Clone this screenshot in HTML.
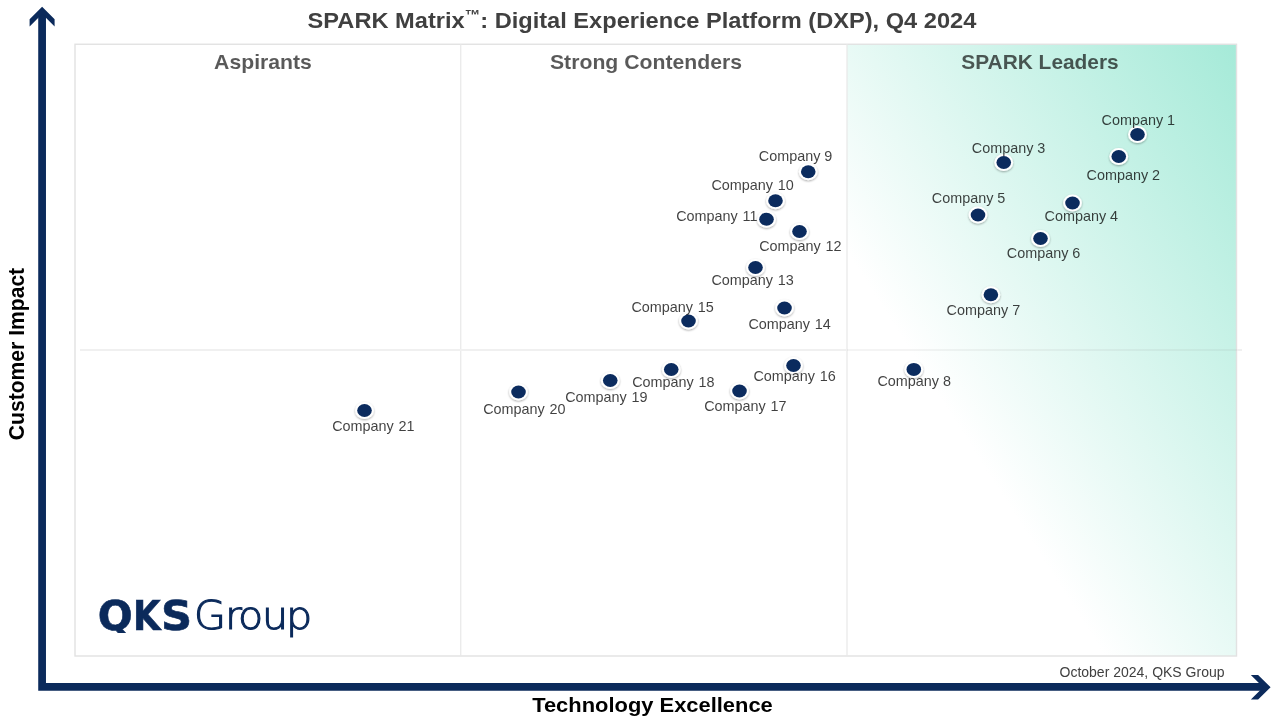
<!DOCTYPE html>
<html lang="en">
<head>
<meta charset="utf-8">
<title>SPARK Matrix: Digital Experience Platform (DXP), Q4 2024</title>
<style>
html,body{margin:0;padding:0;background:#fff;}
body{width:1280px;height:720px;position:relative;overflow:hidden;font-family:"Liberation Sans",sans-serif;}
.abs{position:absolute;}
#gfx{position:absolute;left:0;top:0;width:1280px;height:720px;}
#leaders{position:absolute;left:847px;top:44px;width:390px;height:612px;background:linear-gradient(to bottom left,#a5ead8 0%,#ffffff 67%);}
.title{position:absolute;left:0;top:6px;width:1284px;text-align:center;font-weight:bold;font-size:22.8px;line-height:28px;color:#404040;white-space:nowrap;transform:scaleX(1.036);transform-origin:642.3px 50%;}
.title sup{font-size:15px;line-height:0;vertical-align:8px;}
.q{position:absolute;top:48.8px;font-weight:bold;font-size:20.4px;line-height:26px;color:rgba(0,0,0,0.65);white-space:nowrap;transform:translateX(-50%) scaleX(1.04);}
.l{position:absolute;font-size:14.4px;line-height:16px;color:rgba(0,0,0,0.75);white-space:nowrap;}
.xl{position:absolute;left:0;top:692px;width:1305px;text-align:center;font-weight:bold;font-size:21px;line-height:26px;color:#000;transform:scaleX(1.043);transform-origin:652.5px 50%;}
.yl{position:absolute;left:16.9px;top:354.4px;font-weight:bold;font-size:21.1px;line-height:26px;color:#000;white-space:nowrap;transform:translate(-50%,-50%) rotate(-90deg) scaleY(1.035);}
.foot{position:absolute;right:55.5px;top:664px;font-size:14px;line-height:16px;color:#404040;white-space:nowrap;}
.logo{position:absolute;left:0;top:590.6px;width:330px;height:50px;white-space:nowrap;color:#0b2a5b;line-height:50px;}
.logo b{font-family:"DejaVu Sans","Liberation Sans",sans-serif;font-weight:bold;font-size:41.2px;-webkit-text-stroke:0.6px #0b2a5b;}
.logo b span,.logo i span{position:absolute;top:0;display:block;transform-origin:0 50%;}
.logo .lq{height:42.2px;overflow:hidden;}
.logo .lk{font-family:"DejaVu Sans Condensed","DejaVu Sans",sans-serif;}
.logo i{font-style:normal;font-family:"DejaVu Sans","Liberation Sans",sans-serif;font-weight:200;font-size:38.2px;-webkit-text-stroke:1.05px #0b2a5b;}
.logo i span{transform:scaleX(1.08);}
</style>
</head>
<body>
<div id="leaders"></div>
<svg id="gfx" width="1280" height="720" viewBox="0 0 1280 720">
  <defs>
    <filter id="sh" x="-50%" y="-50%" width="200%" height="200%">
      <feGaussianBlur in="SourceAlpha" stdDeviation="1.2"/>
      <feOffset dx="0" dy="1.2" result="b"/>
      <feComponentTransfer><feFuncA type="linear" slope="0.35"/></feComponentTransfer>
      <feMerge><feMergeNode/><feMergeNode in="SourceGraphic"/></feMerge>
    </filter>
  </defs>
  <!-- grid -->
  <rect x="75" y="44.25" width="1161.5" height="611.75" fill="none" stroke="#e2e2e2" stroke-width="1.4"/>
  <line x1="460.75" y1="44" x2="460.75" y2="656" stroke="#e8e8e8" stroke-width="1.2"/>
  <line x1="847" y1="44" x2="847" y2="656" stroke="#e8e8e8" stroke-width="1.2"/>
  <line x1="80" y1="350" x2="847" y2="350" stroke="#f0f0f0" stroke-width="2"/>
  <line x1="847" y1="350" x2="1237" y2="350" stroke="#808080" stroke-opacity="0.09" stroke-width="2"/>
  <line x1="1237" y1="350" x2="1242" y2="350" stroke="#f0f0f0" stroke-width="2"/>
  <!-- axes -->
  <g fill="none" stroke="#0b2a5b" stroke-width="7.75" stroke-linejoin="miter" stroke-linecap="butt">
    <polyline points="42.1,12 42.1,686.9 1265,686.9"/>
  </g>
  <polygon fill="#0b2a5b" points="42.1,6.75 54.6,19.25 54.6,26.5 42.1,14 29.6,26.5 29.6,19.25"/>
  <polygon fill="#0b2a5b" points="1270.6,687.3 1258.1,675 1250.85,675 1263.2,687.3 1250.85,699.6 1258.1,699.6"/>

  <g id="pts">
    <ellipse cx="1137.5" cy="134.5" rx="9.4" ry="8.5" fill="#fff" filter="url(#sh)"/><ellipse cx="1137.5" cy="134.5" rx="7.3" ry="6.5" fill="#0b2b5e"/>
    <ellipse cx="1118.75" cy="156.5" rx="9.4" ry="8.5" fill="#fff" filter="url(#sh)"/><ellipse cx="1118.75" cy="156.5" rx="7.3" ry="6.5" fill="#0b2b5e"/>
    <ellipse cx="1003.75" cy="162.5" rx="9.4" ry="8.5" fill="#fff" filter="url(#sh)"/><ellipse cx="1003.75" cy="162.5" rx="7.3" ry="6.5" fill="#0b2b5e"/>
    <ellipse cx="1072.5" cy="203" rx="9.4" ry="8.5" fill="#fff" filter="url(#sh)"/><ellipse cx="1072.5" cy="203" rx="7.3" ry="6.5" fill="#0b2b5e"/>
    <ellipse cx="978" cy="215" rx="9.4" ry="8.5" fill="#fff" filter="url(#sh)"/><ellipse cx="978" cy="215" rx="7.3" ry="6.5" fill="#0b2b5e"/>
    <ellipse cx="1040.5" cy="238.5" rx="9.4" ry="8.5" fill="#fff" filter="url(#sh)"/><ellipse cx="1040.5" cy="238.5" rx="7.3" ry="6.5" fill="#0b2b5e"/>
    <ellipse cx="990.9" cy="294.75" rx="9.4" ry="8.5" fill="#fff" filter="url(#sh)"/><ellipse cx="990.9" cy="294.75" rx="7.3" ry="6.5" fill="#0b2b5e"/>
    <ellipse cx="913.8" cy="369.4" rx="9.4" ry="8.5" fill="#fff" filter="url(#sh)"/><ellipse cx="913.8" cy="369.4" rx="7.3" ry="6.5" fill="#0b2b5e"/>
    <ellipse cx="808.25" cy="171.75" rx="9.4" ry="8.5" fill="#fff" filter="url(#sh)"/><ellipse cx="808.25" cy="171.75" rx="7.3" ry="6.5" fill="#0b2b5e"/>
    <ellipse cx="775.5" cy="200.75" rx="9.4" ry="8.5" fill="#fff" filter="url(#sh)"/><ellipse cx="775.5" cy="200.75" rx="7.3" ry="6.5" fill="#0b2b5e"/>
    <ellipse cx="766.5" cy="219.25" rx="9.4" ry="8.5" fill="#fff" filter="url(#sh)"/><ellipse cx="766.5" cy="219.25" rx="7.3" ry="6.5" fill="#0b2b5e"/>
    <ellipse cx="799.5" cy="231.5" rx="9.4" ry="8.5" fill="#fff" filter="url(#sh)"/><ellipse cx="799.5" cy="231.5" rx="7.3" ry="6.5" fill="#0b2b5e"/>
    <ellipse cx="755.5" cy="267.5" rx="9.4" ry="8.5" fill="#fff" filter="url(#sh)"/><ellipse cx="755.5" cy="267.5" rx="7.3" ry="6.5" fill="#0b2b5e"/>
    <ellipse cx="784.5" cy="308" rx="9.4" ry="8.5" fill="#fff" filter="url(#sh)"/><ellipse cx="784.5" cy="308" rx="7.3" ry="6.5" fill="#0b2b5e"/>
    <ellipse cx="688.5" cy="321" rx="9.4" ry="8.5" fill="#fff" filter="url(#sh)"/><ellipse cx="688.5" cy="321" rx="7.3" ry="6.5" fill="#0b2b5e"/>
    <ellipse cx="793.5" cy="365.5" rx="9.4" ry="8.5" fill="#fff" filter="url(#sh)"/><ellipse cx="793.5" cy="365.5" rx="7.3" ry="6.5" fill="#0b2b5e"/>
    <ellipse cx="739.5" cy="391" rx="9.4" ry="8.5" fill="#fff" filter="url(#sh)"/><ellipse cx="739.5" cy="391" rx="7.3" ry="6.5" fill="#0b2b5e"/>
    <ellipse cx="671.25" cy="369.5" rx="9.4" ry="8.5" fill="#fff" filter="url(#sh)"/><ellipse cx="671.25" cy="369.5" rx="7.3" ry="6.5" fill="#0b2b5e"/>
    <ellipse cx="610.25" cy="380.5" rx="9.4" ry="8.5" fill="#fff" filter="url(#sh)"/><ellipse cx="610.25" cy="380.5" rx="7.3" ry="6.5" fill="#0b2b5e"/>
    <ellipse cx="518.5" cy="392" rx="9.4" ry="8.5" fill="#fff" filter="url(#sh)"/><ellipse cx="518.5" cy="392" rx="7.3" ry="6.5" fill="#0b2b5e"/>
    <ellipse cx="364.5" cy="410.5" rx="9.4" ry="8.5" fill="#fff" filter="url(#sh)"/><ellipse cx="364.5" cy="410.5" rx="7.3" ry="6.5" fill="#0b2b5e"/>
  </g>
</svg>
<div class="title">SPARK Matrix<sup>™</sup>: Digital Experience Platform (DXP), Q4 2024</div>
<div class="q" style="left:263px">Aspirants</div>
<div class="q" style="left:646px">Strong Contenders</div>
<div class="q" style="left:1040.4px;transform:translateX(-50%) scaleX(1.024)">SPARK Leaders</div>
<div class="l" style="left:1101.50px;top:112.00px">Company 1</div>
<div class="l" style="left:1086.50px;top:167.00px">Company 2</div>
<div class="l" style="left:971.75px;top:140.00px">Company 3</div>
<div class="l" style="left:1044.50px;top:208.25px">Company 4</div>
<div class="l" style="left:931.75px;top:190.00px">Company 5</div>
<div class="l" style="left:1006.75px;top:244.50px">Company 6</div>
<div class="l" style="left:946.60px;top:302.00px">Company 7</div>
<div class="l" style="left:877.40px;top:373.30px">Company 8</div>
<div class="l" style="left:758.75px;top:147.50px">Company 9</div>
<div class="l" style="left:711.45px;top:176.50px;word-spacing:0.8px">Company 10</div>
<div class="l" style="left:676.20px;top:207.75px;word-spacing:0.8px">Company 11</div>
<div class="l" style="left:759.20px;top:237.75px;word-spacing:0.8px">Company 12</div>
<div class="l" style="left:711.45px;top:272.00px;word-spacing:0.8px">Company 13</div>
<div class="l" style="left:748.45px;top:316.00px;word-spacing:0.8px">Company 14</div>
<div class="l" style="left:631.45px;top:298.75px;word-spacing:0.8px">Company 15</div>
<div class="l" style="left:753.45px;top:367.75px;word-spacing:0.8px">Company 16</div>
<div class="l" style="left:704.20px;top:397.75px;word-spacing:0.8px">Company 17</div>
<div class="l" style="left:632.20px;top:373.75px;word-spacing:0.8px">Company 18</div>
<div class="l" style="left:565.20px;top:389.00px;word-spacing:0.8px">Company 19</div>
<div class="l" style="left:483.20px;top:400.75px;word-spacing:0.8px">Company 20</div>
<div class="l" style="left:332.20px;top:418.00px;word-spacing:0.8px">Company 21</div>
<div class="logo"><b><span class="lq" style="left:97.8px">Q</span><span class="lk" style="left:132.6px;transform:scaleX(0.96)">K</span><span style="left:161.4px;transform:scaleX(1.05)">S</span></b><i><span style="left:194.2px">G</span><span style="left:225px">r</span><span style="left:238.3px">o</span><span style="left:261.6px">u</span><span style="left:285.5px">p</span></i></div>
<div class="foot">October 2024, QKS Group</div>
<div class="xl">Technology Excellence</div>
<div class="yl">Customer Impact</div>
</body>
</html>
